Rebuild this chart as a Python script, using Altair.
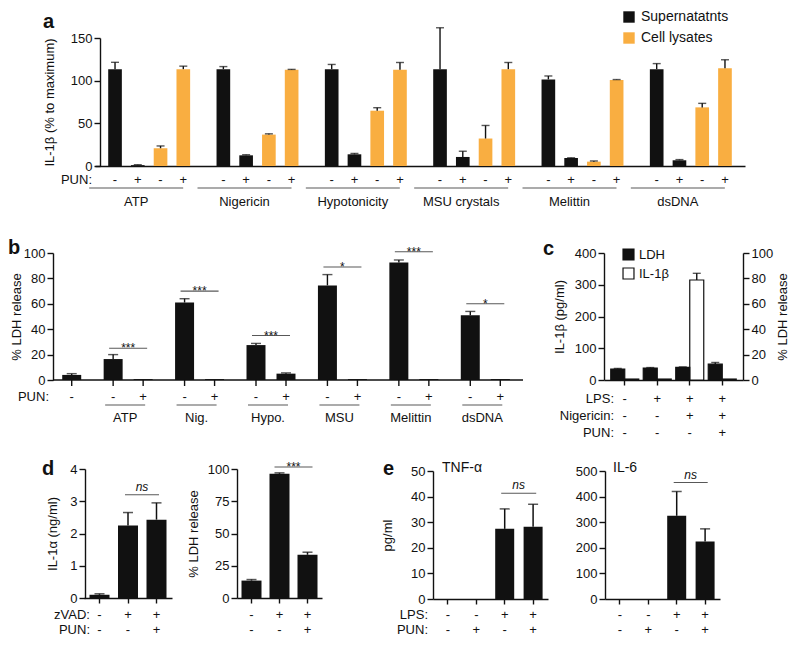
import altair as alt
import pandas as pd

# ---------------------------------------------------------------- data
# panel a : IL-1beta (% to maximum)
a_groups = ["ATP", "Nigericin", "Hypotonicity", "MSU crystals", "Melittin", "dsDNA"]
a_series = ["Supernatatnts", "Cell lysates"]
a_sup_minus = [113.5, 113.5, 113.5, 113.5, 101.5, 113.5]
a_sup_minus_err = [121.5, 116.5, 119.0, 162.0, 105.5, 120.0]
a_sup_plus = [1.0, 12.5, 13.7, 10.6, 9.4, 6.7]
a_sup_plus_err = [1.5, 13.2, 14.7, 17.3, 9.6, 7.5]
a_lys_minus = [20.8, 36.8, 64.8, 32.2, 5.1, 68.7]
a_lys_minus_err = [23.5, 37.7, 68.3, 47.5, 5.9, 73.4]
a_lys_plus = [113.5, 112.7, 112.7, 113.5, 100.9, 114.6]
a_lys_plus_err = [117.0, 113.2, 121.3, 121.3, 101.3, 124.5]

# panel b : % LDH release
b_groups = ["ctrl", "ATP", "Nig.", "Hypo.", "MSU", "Melittin", "dsDNA"]
b_ctrl, b_ctrl_err = 4.0, 5.0
b_minus = [16.5, 61.0, 27.5, 74.5, 92.5, 51.0]
b_minus_err = [20.0, 64.0, 28.8, 83.0, 94.5, 54.0]
b_plus = [0.7, 0.7, 5.0, 0.7, 0.7, 0.7]
b_plus_err = [0.7, 0.7, 5.6, 0.7, 0.7, 0.7]
b_sig_text = ["***", "***", "***", "*", "***", "*"]
b_sig_y = [25.0, 70.0, 35.0, 89.0, 101.0, 60.0]

# panel c
c_lps = ["-", "+", "+", "+"]
c_nig = ["-", "-", "+", "+"]
c_pun = ["-", "-", "-", "+"]
c_il1b = [3.0, 3.0, 315.0, 3.0]
c_il1b_err = [3.0, 3.0, 336.0, 3.0]
c_ldh = [8.6, 9.4, 9.9, 12.5]
c_ldh_err = [9.1, 9.8, 10.3, 13.8]
c_series = ["LDH", "IL-1β"]

# panel d
d_zvad = ["-", "+", "+"]
d_pun = ["-", "-", "+"]
d_il1a = [0.1, 2.25, 2.43]
d_il1a_err = [0.13, 2.65, 2.95]
d_ldh = [13.5, 96.3, 33.5]
d_ldh_err = [14.3, 97.0, 35.5]

# panel e
e_lps = ["-", "-", "+", "+"]
e_pun = ["-", "+", "-", "+"]
e_tnf = [0.0, 0.0, 27.4, 28.2]
e_tnf_err = [0.0, 0.0, 35.2, 37.0]
e_il6 = [0.0, 0.0, 325.0, 225.0]
e_il6_err = [0.0, 0.0, 420.0, 274.0]

# ---------------------------------------------------------------- layout helpers
FONT = "Liberation Sans"
INK = "#111111"
ORANGE = "#F9AE41"
W, H = 780, 630


def px(v):
    return v - 8


def pya(v):
    return v - 8


def pyd(v):
    return v - 20


def fit_band(domain, start, end, step, bar):
    n = len(domain)
    pin = 1 - bar / step
    pout = max(0.0, ((end - start) / step - n + pin) / 2)
    return alt.Scale(domain=domain, range=[px(start), px(end)],
                     paddingInner=pin, paddingOuter=pout)


def note(text, x, y, align="right", size=13, weight="normal", baseline="middle"):
    return alt.Chart(pd.DataFrame({"t": [text]})).mark_text(
        font=FONT, fontSize=size, fontWeight=weight, align=align,
        baseline=baseline, color=INK).encode(
        x=alt.value(x), y=alt.value(y), text="t:N")


def yaxis(axis_x, ticks, title, title_x, orient="left"):
    off = -axis_x if orient == "left" else axis_x - W
    kw = dict(orient=orient, offset=off, values=ticks, format="d")
    if title:
        kw.update(title=title, titleX=title_x, titleAngle=270, titleBaseline="bottom")
    else:
        kw.update(title=None)
    return alt.Axis(**kw)


def xaxis(base_y, ticks=True):
    kw = dict(orient="bottom", offset=base_y - H, labels=False, title=None)
    if ticks:
        kw.update(tickSize=5)
    else:
        kw.update(ticks=False)
    return alt.Axis(**kw)


# ---------------------------------------------------------------- panel a
rows = []
for i, g in enumerate(a_groups):
    rows += [
        dict(g=g, slot="S-", ser=a_series[0], pun="-", v=a_sup_minus[i], e=a_sup_minus_err[i]),
        dict(g=g, slot="S+", ser=a_series[0], pun="+", v=a_sup_plus[i], e=a_sup_plus_err[i]),
        dict(g=g, slot="L-", ser=a_series[1], pun="-", v=a_lys_minus[i], e=a_lys_minus_err[i]),
        dict(g=g, slot="L+", ser=a_series[1], pun="+", v=a_lys_plus[i], e=a_lys_plus_err[i]),
    ]
a_df = pd.DataFrame(rows)
a_lab = pd.DataFrame({"g": a_groups})
a_xs = alt.Scale(domain=a_groups, range=[px(95), px(745)], paddingInner=0, paddingOuter=0)
a_xo = alt.Scale(domain=["S-", "S+", "L-", "L+"], paddingInner=0.4, paddingOuter=0.58)
a_ys = alt.Scale(domain=[0, 150], range=[pya(166), pya(38)], nice=False)
aX = alt.X("g:N", scale=a_xs)
aO = alt.XOffset("slot:N", scale=a_xo)

a_bars = alt.Chart(a_df).mark_bar().encode(
    x=alt.X("g:N", scale=a_xs, axis=xaxis(pya(166), ticks=False)),
    xOffset=aO,
    y=alt.Y("v:Q", scale=a_ys, axis=yaxis(px(100), [0, 50, 100, 150], "IL-1β (% to maximum)", -44)),
    color=alt.Color("ser:N", scale=alt.Scale(domain=a_series, range=[INK, ORANGE]),
                    legend=alt.Legend(orient="none", legendX=px(622), legendY=2, title=None,
                                      symbolType="square", symbolSize=130, symbolStrokeWidth=0,
                                      labelFontSize=14, rowPadding=7, padding=0, labelOffset=5)),
)
a_err = alt.Chart(a_df).mark_rule(color=INK, strokeWidth=1.4).encode(
    x=aX, xOffset=aO, y=alt.Y("v:Q", scale=a_ys), y2="e:Q")
a_cap = alt.Chart(a_df).mark_tick(orient="horizontal", size=8, thickness=1.4, color=INK).encode(
    x=aX, xOffset=aO, y=alt.Y("e:Q", scale=a_ys))
a_sign = alt.Chart(a_df).mark_text(font=FONT, fontSize=13, color=INK).encode(
    x=aX, xOffset=aO, y=alt.value(pya(180)), text="pun:N")
a_line = alt.Chart(a_lab).mark_tick(orient="horizontal", size=94, thickness=1.1, color=INK,
                                    xOffset=-13).encode(x=aX, y=alt.value(pya(188)))
a_name = alt.Chart(a_lab).mark_text(font=FONT, fontSize=13, color=INK, dx=-13).encode(
    x=aX, y=alt.value(pya(202)), text="g:N")
panel_a = alt.layer(a_bars, a_err, a_cap, a_sign, a_line, a_name,
                    note("PUN:", px(92), pya(180)),
                    note("a", px(43), pya(28), align="left", size=20, weight="bold",
                         baseline="alphabetic"))

# ---------------------------------------------------------------- panel b
rows = []
for i, g in enumerate(b_groups[1:]):
    rows += [dict(g=g, pun="-", v=b_minus[i], e=b_minus_err[i]),
             dict(g=g, pun="+", v=b_plus[i], e=b_plus_err[i])]
b_df = pd.DataFrame(rows)
b_ctrl_df = pd.DataFrame({"g": [b_groups[0]], "pun": ["-"], "v": [b_ctrl], "e": [b_ctrl_err]})
b_lab = pd.DataFrame({"g": b_groups[1:], "t": b_sig_text, "y": b_sig_y})
b_xs = alt.Scale(domain=b_groups, range=[px(21), px(521)], paddingInner=0, paddingOuter=0)
b_xo = alt.Scale(domain=["-", "+"], paddingInner=0.367, paddingOuter=0.374)
b_ys = alt.Scale(domain=[0, 100], range=[pya(380), pya(253)], nice=False)
bX = alt.X("g:N", scale=b_xs, axis=None)
bO = alt.XOffset("pun:N", scale=b_xo)
bY = alt.Y("v:Q", scale=b_ys)

b_bars = alt.Chart(b_df).mark_bar(color=INK).encode(
    x=bX, xOffset=bO,
    y=alt.Y("v:Q", scale=b_ys, axis=yaxis(px(53), [0, 20, 40, 60, 80, 100], "% LDH release", -30)))
b_ctrl_bar = alt.Chart(b_ctrl_df).mark_bar(color=INK, width=19, xOffset=15).encode(x=bX, y=bY)
b_err = alt.Chart(b_df[b_df.e > b_df.v]).mark_rule(color=INK, strokeWidth=1.4).encode(
    x=bX, xOffset=bO, y=bY, y2="e:Q")
b_cap = alt.Chart(b_df[b_df.e > b_df.v]).mark_tick(orient="horizontal", size=10, thickness=1.4,
                                                    color=INK).encode(
    x=bX, xOffset=bO, y=alt.Y("e:Q", scale=b_ys))
b_ctrl_err_l = alt.Chart(b_ctrl_df).mark_rule(color=INK, strokeWidth=1.4, xOffset=15).encode(
    x=bX, y=bY, y2="e:Q")
b_ctrl_cap = alt.Chart(b_ctrl_df).mark_tick(orient="horizontal", size=10, thickness=1.4, color=INK,
                                            xOffset=15).encode(
    x=bX, y=alt.Y("e:Q", scale=b_ys))
b_base = alt.Chart(pd.DataFrame({"z": [0]})).mark_rule(color=INK, strokeWidth=1.4).encode(
    y=alt.Y("z:Q", scale=b_ys), x=alt.value(px(53)), x2=alt.value(px(523)))
b_ticks = alt.Chart(b_df).mark_rule(color=INK, strokeWidth=1.4).encode(
    x=bX, xOffset=bO, y=alt.value(pya(380)), y2=alt.value(pya(386)))
b_ctrl_tick = alt.Chart(b_ctrl_df).mark_rule(color=INK, strokeWidth=1.4, xOffset=15).encode(
    x=bX, y=alt.value(pya(380)), y2=alt.value(pya(386)))
b_sign = alt.Chart(b_df).mark_text(font=FONT, fontSize=13, color=INK).encode(
    x=bX, xOffset=bO, y=alt.value(pya(397)), text="pun:N")
b_ctrl_sign = alt.Chart(b_ctrl_df).mark_text(font=FONT, fontSize=13, color=INK, dx=15).encode(
    x=bX, y=alt.value(pya(397)), text="pun:N")
b_line = alt.Chart(b_lab).mark_tick(orient="horizontal", size=40, thickness=1.1, color=INK,
                                    xOffset=-3).encode(x=bX, y=alt.value(pya(405)))
b_name = alt.Chart(b_lab).mark_text(font=FONT, fontSize=13, color=INK, dx=-3).encode(
    x=bX, y=alt.value(pya(418)), text="g:N")
b_sig_line = alt.Chart(b_lab).mark_tick(orient="horizontal", size=38, thickness=1.1,
                                        color=INK).encode(
    x=bX, y=alt.Y("y:Q", scale=b_ys))
b_sig_star = alt.Chart(b_lab).mark_text(font=FONT, fontSize=12, color=INK, baseline="alphabetic",
                                        dy=4).encode(
    x=bX, y=alt.Y("y:Q", scale=b_ys), text="t:N")
panel_b = alt.layer(b_bars, b_ctrl_bar, b_err, b_cap, b_ctrl_err_l, b_ctrl_cap, b_base, b_ticks,
                    b_ctrl_tick, b_sign, b_ctrl_sign, b_line, b_name, b_sig_line, b_sig_star,
                    note("PUN:", px(49), pya(397)),
                    note("b", 0, pya(254), align="left", size=20, weight="bold",
                         baseline="alphabetic"))

# ---------------------------------------------------------------- panel c
c_keys = [a + b + c for a, b, c in zip(c_lps, c_nig, c_pun)]
c_xs = fit_band(c_keys, 604, 743, 32.5, 28)
c_xo = alt.Scale(domain=c_series, paddingInner=0, paddingOuter=0)
c_yl = alt.Scale(domain=[0, 400], range=[pya(380), pya(253)], nice=False)
c_yr = alt.Scale(domain=[0, 100], range=[pya(380), pya(253)], nice=False)
c_il_df = pd.DataFrame({"k": c_keys, "ser": c_series[1], "v": c_il1b, "e": c_il1b_err})
c_ld_df = pd.DataFrame({"k": c_keys, "ser": c_series[0], "v": c_ldh, "e": c_ldh_err})
c_sg_df = pd.DataFrame({"k": c_keys, "lps": c_lps, "nig": c_nig, "pun": c_pun})
cX = alt.X("k:N", scale=c_xs)
cO = alt.XOffset("ser:N", scale=c_xo)
c_leg = alt.Legend(orient="none", legendX=px(622), legendY=pya(248), title=None,
                   symbolType="square", symbolSize=120, symbolStrokeColor=INK,
                   symbolStrokeWidth=1.2, labelFontSize=13, rowPadding=2, padding=0,
                   labelOffset=4)
c_fill = alt.Fill("ser:N", scale=alt.Scale(domain=c_series, range=[INK, "white"]), legend=c_leg)

c_il_bars = alt.Chart(c_il_df).mark_bar(stroke=INK, strokeWidth=1.2).encode(
    x=alt.X("k:N", scale=c_xs, axis=xaxis(pya(380))),
    xOffset=cO,
    y=alt.Y("v:Q", scale=c_yl, axis=yaxis(px(604), [0, 100, 200, 300, 400], "IL-1β (pg/ml)", -38)),
    fill=c_fill)
c_il_e = c_il_df[c_il_df.e > c_il_df.v]
c_il_err = alt.Chart(c_il_e).mark_rule(color=INK, strokeWidth=1.4).encode(
    x=cX, xOffset=cO, y=alt.Y("v:Q", scale=c_yl), y2="e:Q")
c_il_cap = alt.Chart(c_il_e).mark_tick(orient="horizontal", size=8, thickness=1.4, color=INK).encode(
    x=cX, xOffset=cO, y=alt.Y("e:Q", scale=c_yl))
c_ld_bars = alt.Chart(c_ld_df).mark_bar(stroke=INK, strokeWidth=1.2).encode(
    x=cX, xOffset=cO,
    y=alt.Y("v:Q", scale=c_yr,
            axis=yaxis(px(743), [0, 20, 40, 60, 80, 100], "% LDH release", 46, orient="right")),
    fill=c_fill)
c_ld_e = c_ld_df[c_ld_df.e > c_ld_df.v]
c_ld_err = alt.Chart(c_ld_e).mark_rule(color=INK, strokeWidth=1.4).encode(
    x=cX, xOffset=cO, y=alt.Y("v:Q", scale=c_yr), y2="e:Q")
c_ld_cap = alt.Chart(c_ld_e).mark_tick(orient="horizontal", size=8, thickness=1.4, color=INK).encode(
    x=cX, xOffset=cO, y=alt.Y("e:Q", scale=c_yr))
c_signs = [alt.Chart(c_sg_df).mark_text(font=FONT, fontSize=13, color=INK).encode(
    x=cX, y=alt.value(yy), text=f"{col}:N")
    for col, yy in [("lps", pya(399)), ("nig", pya(416)), ("pun", pya(433))]]
panel_c = alt.layer(
    alt.layer(c_il_bars, c_il_err, c_il_cap, *c_signs),
    alt.layer(c_ld_bars, c_ld_err, c_ld_cap),
).resolve_scale(y="independent")
panel_c_txt = alt.layer(note("LPS:", px(614), pya(399)),
                        note("Nigericin:", px(614), pya(416)),
                        note("PUN:", px(614), pya(433)),
                        note("c", px(543), pya(255), align="left", size=20, weight="bold",
                             baseline="alphabetic"))


# ---------------------------------------------------------------- panels d, e
def simple_panel(keys, vals, errs, xs, ys, ticks, axis_x, base_y, title, title_x, sig, rows,
                 cap=10):
    df = pd.DataFrame({"k": keys, "v": vals, "e": errs})
    for j, (lst, _) in enumerate(rows):
        df[f"r{j}"] = lst
    X = alt.X("k:N", scale=xs)
    bars = alt.Chart(df).mark_bar(color=INK).encode(
        x=alt.X("k:N", scale=xs, axis=xaxis(base_y)),
        y=alt.Y("v:Q", scale=ys, axis=yaxis(axis_x, ticks, title, title_x)))
    edf = df[df.e > df.v]
    errl = alt.Chart(edf).mark_rule(color=INK, strokeWidth=1.5).encode(
        x=X, y=alt.Y("v:Q", scale=ys), y2="e:Q")
    capl = alt.Chart(edf).mark_tick(orient="horizontal", size=cap, thickness=1.5,
                                    color=INK).encode(x=X, y=alt.Y("e:Q", scale=ys))
    layers = [bars, errl, capl]
    for j, (_, yy) in enumerate(rows):
        layers.append(alt.Chart(df).mark_text(font=FONT, fontSize=13, color=INK).encode(
            x=X, y=alt.value(yy), text=f"r{j}:N"))
    sdf = pd.DataFrame({"k": [sig["key"]], "y": [sig["y"]], "t": [sig["text"]]})
    layers.append(alt.Chart(sdf).mark_tick(orient="horizontal", size=sig["w"], thickness=1.1,
                                           color=INK, xOffset=sig["dx"]).encode(
        x=X, y=alt.Y("y:Q", scale=ys)))
    layers.append(alt.Chart(sdf).mark_text(font=FONT, fontSize=sig["size"], fontStyle=sig["style"],
                                           color=INK, baseline="alphabetic", dx=sig["dx"],
                                           dy=sig["dy"]).encode(
        x=X, y=alt.Y("y:Q", scale=ys), text="t:N"))
    return alt.layer(*layers)


d_keys = [a + b for a, b in zip(d_zvad, d_pun)]
e_keys = [a + b for a, b in zip(e_lps, e_pun)]
ns = dict(text="ns", size=12, style="italic", dy=-4)
stars = dict(text="***", size=12, style="normal", dy=4)
ROW1, ROW2 = pyd(627), pyd(642)

panel_d1 = simple_panel(
    d_keys, d_il1a, d_il1a_err, fit_band(d_keys, 84, 172, 28.5, 20),
    alt.Scale(domain=[0, 4], range=[pyd(610), pyd(481)], nice=False), [0, 1, 2, 3, 4],
    px(85), pyd(610), "IL-1α (ng/ml)", -26,
    dict(key=d_keys[1], y=3.2, w=34, dx=14, **ns),
    [(d_zvad, ROW1), (d_pun, ROW2)])
panel_d2 = simple_panel(
    d_keys, d_ldh, d_ldh_err, fit_band(d_keys, 237, 322, 28, 20),
    alt.Scale(domain=[0, 100], range=[pyd(610), pyd(481)], nice=False), [0, 25, 50, 75, 100],
    px(237), pyd(610), "% LDH release", -37,
    dict(key=d_keys[1], y=101.5, w=38, dx=14, **stars),
    [(d_zvad, ROW1), (d_pun, ROW2)])
panel_e1 = simple_panel(
    e_keys, e_tnf, e_tnf_err, fit_band(e_keys, 433, 548, 28.4, 19),
    alt.Scale(domain=[0, 50], range=[pyd(611), pyd(483)], nice=False), [0, 10, 20, 30, 40, 50],
    px(433), pyd(611), "pg/ml", -39,
    dict(key=e_keys[2], y=41.3, w=35, dx=14, **ns),
    [(e_lps, ROW1), (e_pun, ROW2)])
panel_e2 = simple_panel(
    e_keys, e_il6, e_il6_err, fit_band(e_keys, 605, 720, 28.4, 19),
    alt.Scale(domain=[0, 500], range=[pyd(611), pyd(483)], nice=False),
    [0, 100, 200, 300, 400, 500],
    px(605), pyd(611), None, 0,
    dict(key=e_keys[2], y=455, w=34, dx=14, **ns),
    [(e_lps, ROW1), (e_pun, ROW2)])
panel_de_txt = alt.layer(
    note("zVAD:", px(90), ROW1), note("PUN:", px(90), ROW2),
    note("LPS:", px(428), ROW1), note("PUN:", px(428), ROW2),
    note("TNF-α", px(442), pyd(480), align="left", size=14),
    note("IL-6", px(613), pyd(480), align="left", size=14),
    note("d", px(42), pyd(487), align="left", size=20, weight="bold", baseline="alphabetic"),
    note("e", px(383), pyd(487), align="left", size=20, weight="bold", baseline="alphabetic"),
)

chart = alt.layer(
    panel_a, panel_b, panel_c, panel_c_txt, panel_d1, panel_d2, panel_e1, panel_e2, panel_de_txt
).resolve_scale(
    x="independent", y="independent", xOffset="independent", color="independent",
    fill="independent"
).properties(
    width=W, height=H, autosize=alt.AutoSizeParams(type="none"), padding=0, background="white"
).configure_view(stroke=None).configure_axis(
    labelFont=FONT, labelFontSize=13, labelColor=INK, titleFont=FONT, titleFontSize=13,
    titleFontWeight="normal", titleColor=INK, domainColor=INK, tickColor=INK, domainWidth=1.4,
    tickWidth=1.4, tickSize=6, labelPadding=2, grid=False
).configure_legend(labelFont=FONT, labelColor=INK)

chart.save("out.html", embed_options={"renderer": "svg", "actions": False})
